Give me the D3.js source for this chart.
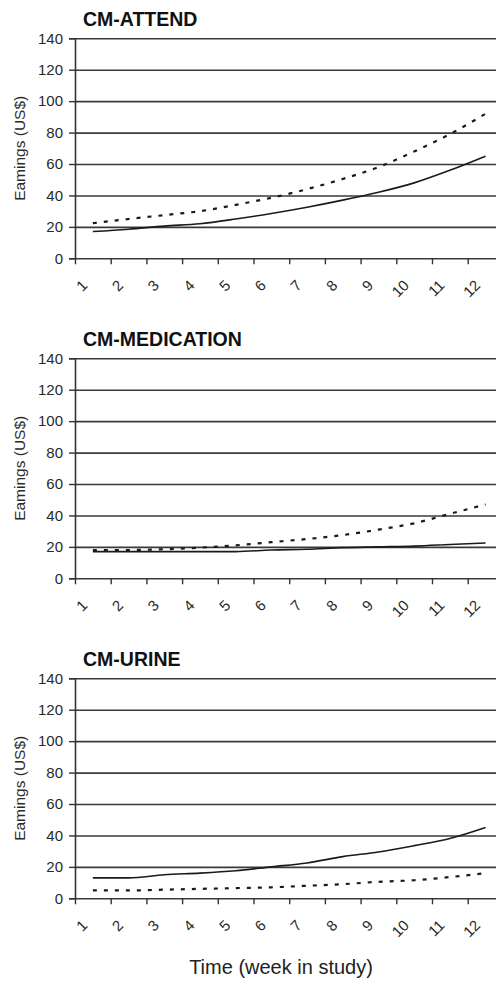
<!DOCTYPE html>
<html>
<head>
<meta charset="utf-8">
<script src="https://cdn.jsdelivr.net/npm/d3@7"></script>
<style>
  body { margin: 0; background: #fff; }
  svg { display: block; font-family: "Liberation Sans", Arial, sans-serif; }
  .axis path, .axis line { stroke: #333; }
  .grid line { stroke: #3a3a3a; stroke-width: 1.6; }
  .grid path { display: none; }
</style>
</head>
<body>
<div id="chart"></div>
<script>
// weeks in study
const weeks = [1, 2, 3, 4, 5, 6, 7, 8, 9, 10, 11, 12];
const yTicks = [0, 20, 40, 60, 80, 100, 120, 140];
const panelTitles = ["CM-ATTEND", "CM-MEDICATION", "CM-URINE"];

// values (US$)
const attendSolid = [17, 18.5, 20.5, 22, 25, 28.5, 32.5, 37, 42, 48, 56, 65];
const attendDashed = [22.3, 25, 27.5, 30, 34, 38.5, 44, 50.5, 58, 68, 79, 92];
const medicationSolid = [17, 17, 17, 17, 17, 18, 18.5, 19.5, 20, 20.5, 21.5, 22.5];
const medicationDashed = [18, 18, 18.5, 19.5, 21, 23, 25, 27.5, 31, 35, 41, 47];
const urineSolid = [13, 13, 15, 16, 17.5, 20, 22.5, 26.5, 29.5, 33.5, 38, 45];
const urineDashed = [5, 5, 5.5, 6, 6.5, 7, 8, 9, 10.5, 11.5, 13.5, 16];

const solidSeries = [attendSolid, medicationSolid, urineSolid];
const dashedSeries = [attendDashed, medicationDashed, urineDashed];

const W = 496, H = 984;
const left = 75, right = 496;
const firstTop = 38.3, panelH = 220, panelStep = 320;
const bandW = 35.7;

const svg = d3.select('#chart').append('svg')
    .attr('width', W)
    .attr('height', H);

// tick positions sit on band edges, points at band centres
const x = d3.scaleLinear()
    .domain([1, 13])
    .range([left, left + 12 * bandW]);

const line = d3.line()
    .x((d, i) => x(weeks[i] + 0.5))
    .y(d => d)
    .curve(d3.curveMonotoneX);

panelTitles.forEach((title, p) => {
    const top = firstTop + p * panelStep;
    const y = d3.scaleLinear()
        .domain([0, 140])
        .range([top + panelH, top]);

    const g = svg.append('g');

    // gridlines
    g.append('g')
        .attr('class', 'grid')
        .attr('transform', `translate(${left},0)`)
        .call(d3.axisLeft(y).tickValues(yTicks).tickSize(-(right - left)).tickFormat(''));

    // y axis
    const yAxis = g.append('g')
        .attr('class', 'axis')
        .attr('transform', `translate(${left},0)`)
        .call(d3.axisLeft(y).tickValues(yTicks).tickSize(6).tickPadding(6));
    yAxis.select('.domain').attr('stroke-width', 1.6);
    yAxis.selectAll('line').attr('stroke-width', 1.4);
    yAxis.selectAll('text')
        .attr('font-size', 15)
        .attr('fill', '#2a2a2a')
        .attr('font-family', '"Liberation Sans", Arial, sans-serif');

    // x axis
    const xAxis = g.append('g')
        .attr('class', 'axis')
        .attr('transform', `translate(0,${top + panelH})`)
        .call(d3.axisBottom(x).tickValues(weeks).tickSize(6).tickSizeOuter(0));
    xAxis.select('.domain').remove();
    xAxis.selectAll('line').attr('stroke-width', 1.4);
    xAxis.selectAll('text')
        .attr('font-size', 15)
        .attr('fill', '#2a2a2a')
        .attr('font-family', '"Liberation Sans", Arial, sans-serif')
        .attr('text-anchor', 'end')
        .attr('y', 0)
        .attr('dy', 0)
        .attr('transform', 'translate(13,28) rotate(-45)');

    // title
    g.append('text')
        .attr('x', 83)
        .attr('y', top - 12)
        .attr('font-size', 19.5)
        .attr('font-weight', 'bold')
        .attr('fill', '#111')
        .text(title);

    // y label
    g.append('text')
        .attr('transform', `translate(25,${top + panelH / 2}) rotate(-90)`)
        .attr('text-anchor', 'middle')
        .attr('font-size', 15.5)
        .attr('fill', '#2a2a2a')
        .text('Eamings (US$)');

    // series
    g.append('path')
        .datum(solidSeries[p].map(v => y(v)))
        .attr('d', line)
        .attr('fill', 'none')
        .attr('stroke', '#1a1a1a')
        .attr('stroke-width', 1.6);

    g.append('path')
        .datum(dashedSeries[p].map(v => y(v)))
        .attr('d', line)
        .attr('fill', 'none')
        .attr('stroke', '#1a1a1a')
        .attr('stroke-width', 2.2)
        .attr('stroke-dasharray', '4,7');
});

svg.append('text')
    .attr('x', 281)
    .attr('y', 974)
    .attr('text-anchor', 'middle')
    .attr('font-size', 20)
    .attr('fill', '#222')
    .text('Time (week in study)');
</script>
</body>
</html>
